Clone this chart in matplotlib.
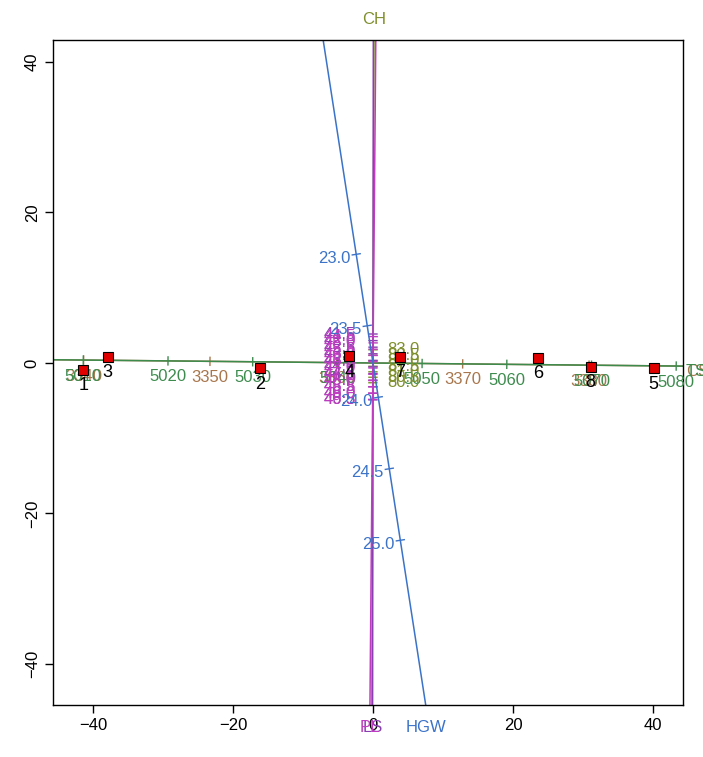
import numpy as np
import matplotlib
matplotlib.use("Agg")
import matplotlib.pyplot as plt

plt.rcParams['font.family'] = ['Liberation Sans', 'DejaVu Sans']
plt.rcParams['font.size'] = 12

# sample points (biplot scores)
point_names = ['1', '2', '3', '4', '5', '6', '7', '8']
point_x = [-41.4, -16.1, -37.9, -3.4, 40.1, 23.6, 3.9, 31.1]
point_y = [-0.9, -0.7, 0.8, 0.9, -0.7, 0.7, 0.8, -0.5]

# calibrated variable axes: value at origin, shift per unit of value
var_names = ['CS', 'TS', 'CH', 'LS', 'PL', 'HGW']
var_centre = [3362.9, 5044.2, 81.8, 43.7, 46.6, 23.76]
var_dx = [1.805, 1.21, 0.005, -0.002, -0.0158, 3.15]
var_dy = [-0.017, -0.0114, 1.46, -1.75, -1.67, -19.0]
var_colors = ['#a8764c', '#3d8c4e', '#7f8f2c', '#8a3fb0', '#c03cc0', '#3b73c8']

cs_ticks = [3340, 3350, 3360, 3370, 3380]
ts_ticks = [5010, 5020, 5030, 5040, 5050, 5060, 5070, 5080]
ch_ticks = [80.0, 80.5, 81.0, 81.5, 82.0, 82.5, 83.0]
ls_ticks = [41.5, 42.0, 42.5, 43.0, 43.5, 44.0, 44.5, 45.0, 45.5, 46.0, 46.5]
pl_ticks = [44.5, 45.0, 45.5, 46.0, 46.5, 47.0, 47.5, 48.0, 48.5, 49.0, 49.5]
hgw_ticks = [23.0, 23.5, 24.0, 24.5, 25.0]
var_ticks = [cs_ticks, ts_ticks, ch_ticks, ls_ticks, pl_ticks, hgw_ticks]
var_fmt = ['{:.0f}', '{:.0f}', '{:.1f}', '{:.1f}', '{:.1f}', '{:.1f}']

# label offset in pixels (dx, dy) and alignment
lab_off = [(0, -16, 'center'), (0, -16, 'center'), (14, 0, 'left'),
           (-17, 0, 'right'), (-17, 0, 'right'), (-6, -4, 'right')]

fig = plt.figure(figsize=(7.03, 7.57), dpi=100)
ax = fig.add_axes([53 / 703, 52 / 757, 630 / 703, 665 / 757])
ax.set_xlim(-45.71, 44.29)
ax.set_ylim(-45.45, 42.92)
ax.set_xticks([-40, -20, 0, 20, 40])
ax.set_yticks([-40, -20, 0, 20, 40])
ax.tick_params(direction='out', length=6, width=1, labelsize=12)
for lab in ax.get_yticklabels():
    lab.set_rotation(90)
    lab.set_va('center')
for s in ax.spines.values():
    s.set_linewidth(1)

fig.canvas.draw()
to_px = ax.transData.transform
to_data = ax.transData.inverted().transform
x0, x1 = ax.get_xlim()
y0, y1 = ax.get_ylim()

for name, c, dx, dy, col, ticks, fmt, off in zip(var_names, var_centre, var_dx, var_dy,
                                                  var_colors, var_ticks, var_fmt, lab_off):
    d = np.array([dx, dy])
    ax.plot([-500 * dx, 500 * dx], [-500 * dy, 500 * dy], color=col, lw=1.1, zorder=2)
    u = to_px(d) - to_px([0, 0])
    u = u / np.hypot(*u)
    n = np.array([-u[1], u[0]])
    for v in ticks:
        q = to_px((v - c) * d)
        a = to_data(q - 4 * n)
        b = to_data(q + 4 * n)
        ax.plot([a[0], b[0]], [a[1], b[1]], color=col, lw=1, zorder=2)
        t = to_data(q + np.array(off[:2]))
        ax.text(t[0], t[1], fmt.format(v), color=col, ha=off[2], va='center', zorder=3)
    # name where the positive end leaves the box
    ts = []
    for lim, comp in ((x1, dx), (x0, dx), (y1, dy), (y0, dy)):
        if comp != 0 and lim / comp > 0:
            ts.append(lim / comp)
    tt = min(ts)
    e = to_px(tt * d)
    if abs(tt * dx - x1) < 1e-6:
        p, ha, va = e + [3, -5], 'left', 'center'
    elif abs(tt * dy - y1) < 1e-6:
        p, ha, va = e + [0, 20], 'center', 'center'
    else:
        p, ha, va = e + [0, -22], 'center', 'center'
    p = to_data(p)
    ax.text(p[0], p[1], name, color=col, ha=ha, va=va, clip_on=False)

ax.plot(point_x, point_y, 's', ms=7, mfc='#e00000', mec='black', mew=0.8, ls='none', zorder=4)
for nm, px, py in zip(point_names, point_x, point_y):
    q = to_data(to_px([px, py]) + [0, -16])
    ax.text(q[0], q[1], nm, color='black', ha='center', va='center', fontsize=13, zorder=5)

fig.savefig('out.png', dpi=100)
